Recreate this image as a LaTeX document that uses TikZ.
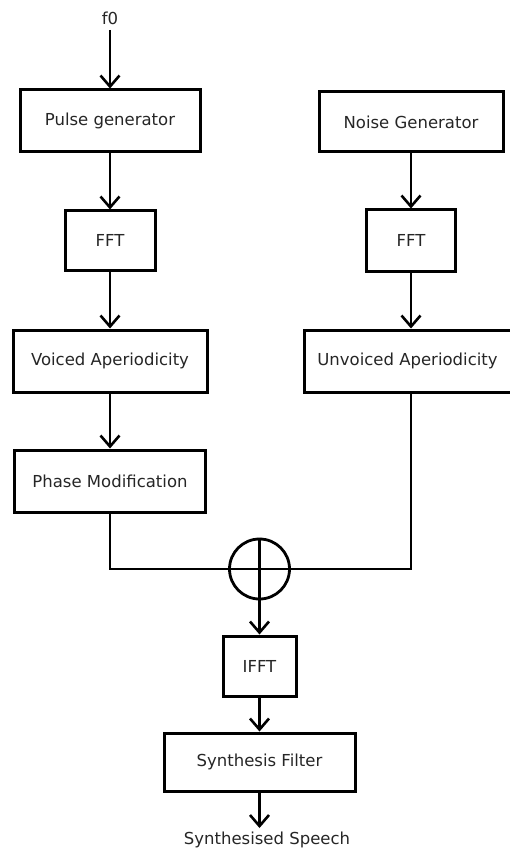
\documentclass[tikz,border=0pt]{standalone}
\usepackage{fontspec}
\setmainfont{DejaVu Sans}
\usetikzlibrary{arrows.meta}
\begin{document}
\begin{tikzpicture}[x=1pt,y=-1pt,
  every node/.style={font=\fontsize{16.5}{19}\selectfont, text=black!85},
  blk/.style={draw=black, line width=3pt, inner sep=0pt, align=center},
  flow/.style={draw=black, line width=2.8pt,
    -{Straight Barb[length=11pt,width=19pt,line width=2.6pt]}},
  wire/.style={draw=black, line width=2.8pt}]
\useasboundingbox (0,0) rectangle (510,850);
\fill[white] (0,0) rectangle (510,850);

% voiced branch
\node (f0) at (110,18) {f0};
\node[blk, minimum width=180pt, minimum height=62pt] (pulse) at (110,121) {Pulse generator};
\node[blk, minimum width=90pt, minimum height=59pt] (fftl) at (110,240.5) {FFT};
\node[blk, minimum width=194pt, minimum height=62pt] (voiced) at (110,361) {Voiced Aperiodicity};
\node[blk, minimum width=191pt, minimum height=62pt] (phase) at (110,481) {Phase Modification};

% unvoiced branch
\node[blk, minimum width=184pt, minimum height=60pt] (noise) at (411,122) {Noise Generator};
\node[blk, minimum width=89pt, minimum height=61pt] (fftr) at (411,240.5) {FFT};
\node[blk, minimum width=207pt, minimum height=62pt] (unvoiced) at (407.5,361) {Unvoiced Aperiodicity};

% summing junction (circle with a cross)
\node[draw=black, line width=2.8pt, circle, minimum size=60pt, inner sep=0pt] (sum) at (259.5,569) {};
\draw[wire] (sum.north) -- (sum.south);
\draw[wire] (sum.west) -- (sum.east);

% output chain
\node[blk, minimum width=73pt, minimum height=60pt] (ifft) at (259.5,666) {IFFT};
\node[blk, minimum width=191pt, minimum height=58pt] (synth) at (259.5,762) {Synthesis Filter};
\node (out) at (267,840) {Synthesised Speech};
\coordinate (outtip) at (259.5,828);

\draw[flow] (f0.south -| pulse.north) ++(0,2) -- (pulse.north);
\draw[flow] (pulse.south) -- (fftl.north);
\draw[flow] (fftl.south) -- (voiced.north);
\draw[flow] (voiced.south) -- (phase.north);
\draw[flow] (noise.south) -- (fftr.north);
\draw[flow] (fftr.south) -- (unvoiced.north -| fftr.south);
\draw[wire] (phase.south) |- (sum.west);
\draw[wire] (unvoiced.south -| fftr.south) |- (sum.east);
\draw[flow] (sum.south) -- (ifft.north);
\draw[flow] (ifft.south) -- (synth.north);
\draw[flow] (synth.south) -- (outtip);
\end{tikzpicture}
\end{document}
